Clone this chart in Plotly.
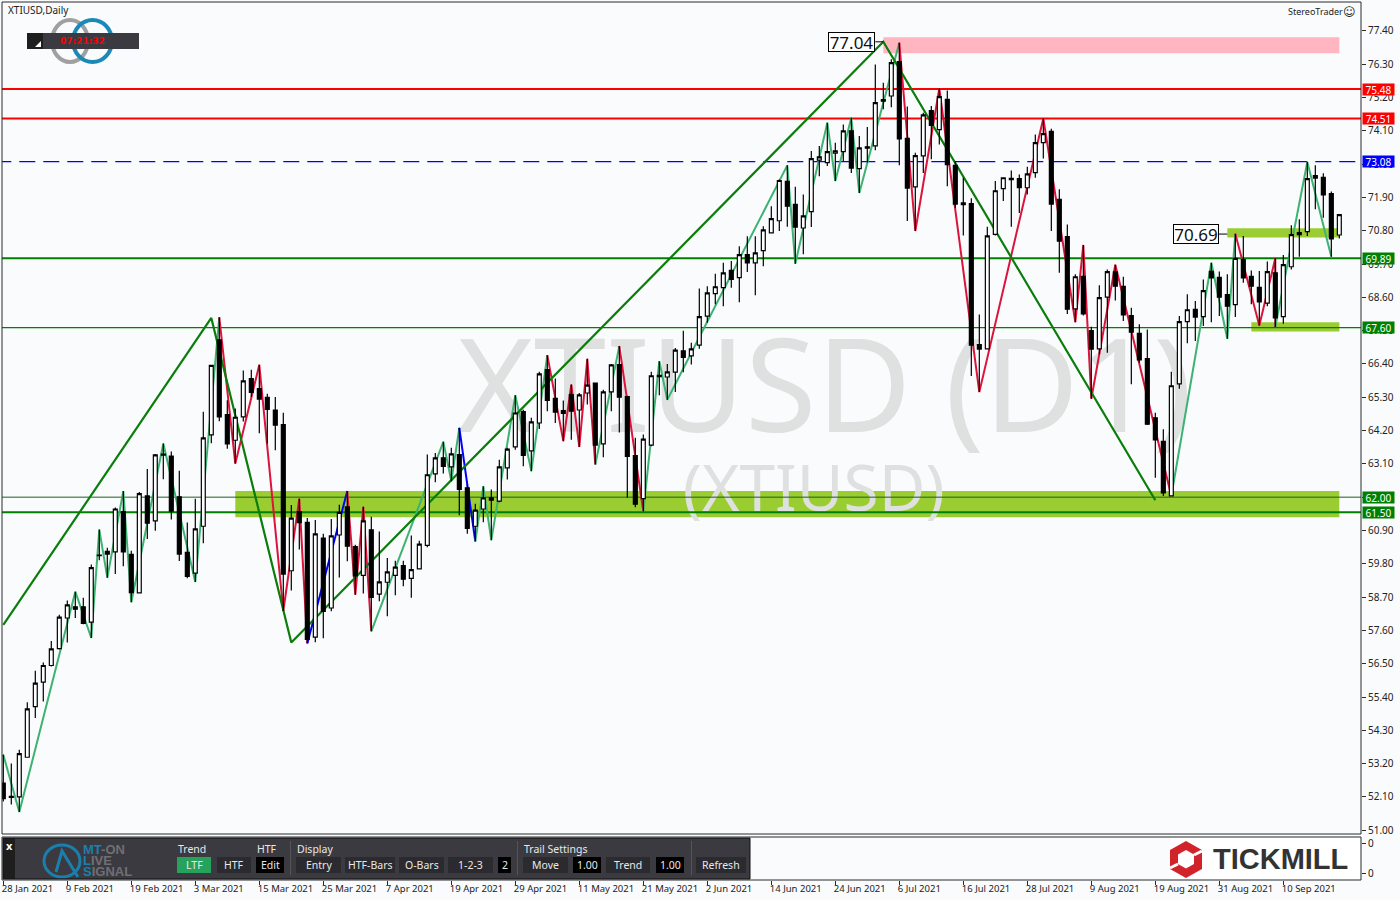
import plotly.graph_objects as go

opens = [52.56,52.12,52.10,53.41,55.08,55.89,56.44,57.00,58.01,58.38,
 58.38,57.87,60.07,60.21,60.19,61.52,60.11,58.84,62.04,61.22,
 63.42,63.36,62.01,60.18,59.49,61.04,64.06,67.20,64.73,63.88,
 64.65,65.92,65.59,65.30,64.88,64.40,59.57,61.52,61.17,57.38,
 60.65,58.34,60.75,61.68,60.37,59.42,60.92,58.80,59.19,59.42,
 59.74,59.32,59.63,60.41,62.77,63.30,63.00,63.41,62.31,61.04,
 61.61,61.98,61.87,62.97,63.66,64.83,63.53,64.45,66.21,65.26,
 64.86,65.39,64.88,65.44,65.77,63.76,65.48,66.38,65.32,63.37,
 61.95,63.72,65.98,65.97,66.13,66.83,66.67,67.02,67.98,68.72,
 68.92,69.49,69.25,70.01,69.74,70.14,70.73,71.13,72.43,71.67,
 70.89,71.43,73.13,73.05,73.36,73.41,74.10,72.85,73.57,73.60,
 75.13,75.25,76.39,73.85,72.25,73.27,74.77,74.14,75.14,72.96,
 71.72,71.70,67.04,66.90,70.68,72.19,72.49,72.52,72.22,72.72,
 73.71,74.08,71.84,70.61,68.22,69.29,67.50,66.90,68.61,69.44,
 68.96,68.00,67.41,66.58,64.62,63.84,62.04,65.74,67.80,68.20,
 67.96,69.46,69.26,68.69,68.36,69.85,69.29,68.93,68.41,69.41,
 67.96,69.61,70.67,70.77,72.62,72.56,72.03,70.66]
closes = [52.04,52.08,53.53,55.01,55.86,56.44,56.99,58.04,58.44,58.30,
 57.83,59.67,60.09,60.12,61.61,60.19,58.85,62.12,61.14,63.40,
 63.39,61.54,60.12,59.38,60.95,63.96,66.35,64.65,63.76,64.64,
 65.84,65.46,65.24,64.90,64.38,59.46,61.31,61.16,57.30,60.79,
 58.23,60.72,61.50,60.38,59.40,61.22,58.69,59.20,59.53,59.69,
 59.29,59.61,60.45,62.74,63.30,63.02,63.43,62.26,60.97,61.57,
 61.98,61.90,63.00,63.59,64.78,63.38,64.49,66.07,65.20,64.81,
 64.77,64.84,65.38,65.70,63.72,65.48,66.37,65.30,63.35,61.77,
 63.92,66.01,66.02,66.14,66.86,66.62,66.90,67.96,68.75,68.95,
 69.41,69.19,70.01,69.74,70.07,70.83,71.20,72.46,71.61,70.92,
 71.29,73.18,73.24,73.41,73.44,74.10,72.87,73.54,73.53,75.03,
 75.08,76.35,73.83,72.21,73.28,74.63,74.28,75.23,72.98,71.68,
 71.66,67.02,66.89,70.63,72.12,72.55,72.53,72.22,72.68,73.71,
 74.01,71.68,70.46,68.21,69.28,68.05,66.89,68.59,69.45,68.97,
 68.02,67.45,66.53,64.41,63.89,62.14,65.68,67.80,68.19,67.95,
 68.82,69.24,68.61,68.31,69.89,69.24,68.97,68.45,69.45,67.92,
 69.68,70.67,70.74,72.52,72.54,71.98,70.53,71.33]
highs = [53.50,53.20,53.66,55.23,56.27,56.54,57.25,58.12,58.59,58.88,
 58.68,59.78,60.93,60.33,61.66,62.20,60.23,62.17,62.93,63.43,
 63.77,63.51,62.87,61.16,61.95,64.82,66.37,67.94,65.20,64.93,
 66.18,66.21,66.37,65.42,65.31,64.79,61.74,61.95,61.31,61.25,
 60.79,61.28,61.75,62.20,60.43,61.68,61.35,60.87,59.99,59.90,
 59.90,60.73,60.56,63.41,63.46,63.83,63.63,64.29,62.42,61.78,
 62.36,62.25,63.24,63.63,65.37,64.89,64.62,66.14,66.69,65.92,
 65.19,65.72,65.44,66.57,65.77,65.55,66.40,66.99,65.35,63.96,
 64.07,66.14,66.49,66.40,66.93,67.50,67.10,68.89,68.97,69.38,
 69.74,69.80,70.29,70.62,70.62,70.95,71.61,72.49,72.96,72.25,
 72.00,73.43,73.60,74.37,73.71,74.31,74.53,73.93,74.23,76.29,
 75.69,76.46,77.01,74.90,73.38,74.70,74.92,75.50,75.43,73.10,
 72.55,71.87,68.03,70.93,72.44,72.57,72.79,72.66,72.91,73.98,
 74.51,74.17,72.17,71.01,69.36,70.33,67.63,69.00,69.52,69.68,
 69.28,68.26,67.71,67.54,64.79,64.24,66.14,67.98,68.70,68.48,
 69.19,69.74,69.45,69.36,70.70,70.63,69.49,69.47,69.78,69.89,
 70.00,70.98,71.18,73.07,72.96,72.70,72.10,71.33]
lows = [51.95,51.85,51.60,53.41,54.71,55.25,56.41,56.97,57.20,58.01,
 57.80,57.35,59.92,59.34,59.46,59.72,58.53,58.84,60.62,60.89,
 62.59,61.26,59.89,59.32,59.20,60.48,63.78,64.51,63.60,63.11,
 64.50,65.31,64.11,63.77,63.55,58.24,58.92,60.27,57.19,57.21,
 57.34,58.23,59.35,59.88,58.78,58.82,57.57,58.56,58.07,58.76,
 59.06,58.68,59.61,60.35,62.49,62.78,62.53,61.40,60.79,60.54,
 61.17,60.58,61.83,62.58,63.57,63.02,62.86,64.25,64.84,64.45,
 63.85,63.90,63.66,65.06,63.08,63.32,64.84,64.14,61.98,61.67,
 61.53,63.68,65.37,65.22,65.47,66.13,66.38,66.90,67.76,68.37,
 68.31,68.92,68.44,69.44,68.67,69.63,70.71,70.79,70.93,69.71,
 70.02,70.92,72.60,72.94,72.44,73.10,72.71,72.05,73.05,73.46,
 74.81,74.88,72.96,71.12,70.79,72.71,73.16,73.65,72.27,71.56,
 70.64,66.00,65.47,66.88,70.64,71.78,70.93,71.39,72.00,72.55,
 73.19,70.79,69.41,68.05,67.78,68.00,65.25,66.72,66.77,68.50,
 67.82,65.73,66.44,64.38,62.64,62.04,62.04,65.58,67.08,67.16,
 67.65,67.78,67.98,67.23,67.95,69.08,68.37,67.67,68.31,67.62,
 67.73,69.52,69.94,70.63,71.51,71.23,69.94,70.54]

date_labels = ["28 Jan 2021","9 Feb 2021","19 Feb 2021","3 Mar 2021","15 Mar 2021","25 Mar 2021",
 "7 Apr 2021","19 Apr 2021","29 Apr 2021","11 May 2021","21 May 2021","2 Jun 2021","14 Jun 2021",
 "24 Jun 2021","6 Jul 2021","16 Jul 2021","28 Jul 2021","9 Aug 2021","19 Aug 2021","31 Aug 2021","10 Sep 2021"]
price_ticks = [77.40,76.30,75.20,74.10,73.00,71.90,70.80,69.70,68.60,67.50,66.40,65.30,64.20,63.10,
 62.00,60.90,59.80,58.70,57.60,56.50,55.40,54.30,53.20,52.10,51.00]

zz_green_1_x = [0,2,9,11,12,13,15,16,20,24,27]
zz_green_1_y = [53.49,51.60,58.88,57.35,60.93,59.34,62.20,58.53,63.77,59.20,67.94]
zz_red_1_x = [27,29,32,35,37,38]
zz_red_1_y = [67.94,63.11,66.37,58.24,61.95,57.17]
zz_blue_1_x = [38,43]
zz_blue_1_y = [57.17,62.20]
zz_red_2_x = [43,44,45,46]
zz_red_2_y = [62.20,58.78,61.68,57.57]
zz_green_2_x = [46,55,56,57]
zz_green_2_y = [57.57,63.83,62.53,64.29]
zz_blue_2_x = [57,59]
zz_blue_2_y = [64.29,60.54]
zz_green_3_x = [59,60,61,64,66,68]
zz_green_3_y = [60.54,62.36,60.58,65.37,62.86,66.69]
zz_red_3_x = [68,70,71,72,73,74]
zz_red_3_y = [66.69,63.85,65.72,63.66,66.57,63.08]
zz_green_4_x = [74,77]
zz_green_4_y = [63.08,66.99]
zz_red_4_x = [77,80]
zz_red_4_y = [66.99,61.53]
zz_green_5_x = [80,82,83,98,99,103,104,106,107,112]
zz_green_5_y = [61.53,66.49,65.22,72.96,69.71,74.37,72.44,74.53,72.05,77.01]
zz_red_5_x = [112,114,117,122,130,134,135,136,139,146]
zz_red_5_y = [77.01,70.79,75.50,65.47,74.51,67.78,70.33,65.25,69.68,62.04]
zz_green_6_x = [146,151,153,154]
zz_green_6_y = [62.04,69.74,67.23,70.70]
zz_red_6_x = [154,157,159,159]
zz_red_6_y = [70.70,67.67,69.89,67.62]
zz_green_7_x = [159,163,166]
zz_green_7_y = [67.62,73.07,69.94]

trend_x = [0,26,36,110,144]
trend_y = [57.78,67.92,57.20,77.04,61.90]

levels = [75.48,74.51,73.08,69.89,67.60,62.00,61.50]
level_colors = ["#FF0000","#FF0000","#0000FF","#008000","#008000","#1F5F1F","#008000"]
level_widths = [2,2,1.2,2,1.2,1,2]
level_dashes = ["solid","solid","dash","solid","solid","solid","solid"]
tag_colors = ["#FF0000","#FF0000","#0000FF","#008000","#008000","#008000","#008000"]

zones = [(110,167,77.19,76.66,"#FFB6C1"),(29,167,62.20,61.34,"#9ACD32"),
         (153,167,70.88,70.58,"#9ACD32"),(156,167,67.78,67.47,"#9ACD32")]

FONT = "Noto Sans"
TOP, BOTTOM, LEFT, RIGHT = 2, 20, 2, 39
W, H = 1400, 900
XR = [-0.1625, 169.71]
YR = [50.875, 78.355]
def px(X): return (X - LEFT) / (W - LEFT - RIGHT)
def py(Y): return 1 - (Y - TOP) / (H - TOP - BOTTOM)

fig = go.Figure()

fig.add_trace(go.Scatter(x=[102.7], y=[65.22], mode="text", text=["XTIUSD (D1)"],
    textfont=dict(family=FONT, size=130, color="#DFE0E0"), textposition="middle center"))
fig.add_trace(go.Scatter(x=[101.3], y=[62.07], mode="text", text=["(XTIUSD)"],
    textfont=dict(family=FONT, size=64, color="#DFE0E0"), textposition="middle center"))

for lv, col, wd, ds in zip(levels, level_colors, level_widths, level_dashes):
    fig.add_trace(go.Scatter(x=[-1, 171], y=[lv, lv], mode="lines", line=dict(color=col, width=wd, dash=ds if ds == "solid" else "16px,8px")))

GREEN, RED, BLUE = "#3CB371", "#DC143C", "#0000FF"
for sx, sy, c in [(zz_green_1_x, zz_green_1_y, GREEN), (zz_red_1_x, zz_red_1_y, RED), (zz_blue_1_x, zz_blue_1_y, BLUE),
                  (zz_red_2_x, zz_red_2_y, RED), (zz_green_2_x, zz_green_2_y, GREEN), (zz_blue_2_x, zz_blue_2_y, BLUE),
                  (zz_green_3_x, zz_green_3_y, GREEN), (zz_red_3_x, zz_red_3_y, RED), (zz_green_4_x, zz_green_4_y, GREEN),
                  (zz_red_4_x, zz_red_4_y, RED), (zz_green_5_x, zz_green_5_y, GREEN), (zz_red_5_x, zz_red_5_y, RED),
                  (zz_green_6_x, zz_green_6_y, GREEN), (zz_red_6_x, zz_red_6_y, RED), (zz_green_7_x, zz_green_7_y, GREEN)]:
    fig.add_trace(go.Scatter(x=sx, y=sy, mode="lines", line=dict(color=c, width=2)))

fig.add_trace(go.Scatter(x=trend_x, y=trend_y, mode="lines", line=dict(color="#0A7D0A", width=2.2)))

# candles live on an overlaying axis pair so they are painted above the lines
fig.add_trace(go.Candlestick(x=list(range(len(opens))), open=opens, high=highs, low=lows, close=closes,
    xaxis="x2", yaxis="y3", whiskerwidth=0,
    increasing=dict(fillcolor="#FFFFFF", line=dict(color="#000000", width=1.2)),
    decreasing=dict(fillcolor="#000000", line=dict(color="#000000", width=1.2))))

fig.add_trace(go.Scatter(x=[0], y=[0], yaxis="y2", mode="markers", marker=dict(opacity=0)))

shapes = []
for x0, x1, y0, y1, c in zones:
    shapes.append(dict(type="rect", xref="x", yref="y", x0=x0, x1=x1, y0=y0, y1=y1,
                       fillcolor=c, line=dict(width=0), layer="below"))

def rect(x0, y0, x1, y1, fill, line=None, lw=0):
    shapes.append(dict(type="rect", xref="paper", yref="paper", x0=px(x0), x1=px(x1), y0=py(y0), y1=py(y1),
                       fillcolor=fill, line=dict(width=lw, color=line or fill), layer="above"))
def ring(x0, y0, x1, y1, col, lw):
    shapes.append(dict(type="circle", xref="paper", yref="paper", x0=px(x0), x1=px(x1), y0=py(y0), y1=py(y1),
                       line=dict(color=col, width=lw), layer="above"))
def poly(pts, fill=None, line=None, lw=0, close=True):
    path = "M " + " L ".join(f"{px(a):.5f},{py(b):.5f}" for a, b in pts) + (" Z" if close else "")
    shapes.append(dict(type="path", xref="paper", yref="paper", path=path, fillcolor=fill or "rgba(0,0,0,0)",
                       line=dict(width=lw, color=line or "rgba(0,0,0,0)"), layer="above"))

rect(2, 2, 1361, 834, "rgba(0,0,0,0)", "#2A2A2A", 1)
rect(2, 837, 1361, 880, "rgba(0,0,0,0)", "#2A2A2A", 1)
shapes.append(dict(type="line", xref="x", yref="y", x0=109, x1=110, y0=77.04, y1=77.04, line=dict(color="#000", width=1), layer="above"))
shapes.append(dict(type="line", xref="x", yref="y", x0=151.9, x1=153, y0=70.69, y1=70.69, line=dict(color="#000", width=1), layer="above"))

ring(52, 20, 88, 62, "#A0A0A0", 4)
ring(73, 20, 112, 62, "#1B89B8", 4)
rect(27, 33, 139, 49, "#3B3A40")
rect(27, 33, 43, 49, "#1E1E1E")
poly([(35, 47), (41, 47), (41, 41)], fill="#FFFFFF")

rect(1170, 838, 1360, 879, "#FFFFFF")
poly([(1186, 841), (1202, 850), (1202, 869), (1186, 878), (1170, 869), (1170, 850)], fill="#D2232A")
poly([(1186, 850), (1194, 854.5), (1194, 864), (1186, 868.5), (1178, 864), (1178, 854.5)], fill="#FFFFFF")
poly([(1194, 855), (1202, 851)], line="#FFFFFF", lw=3, close=False)
poly([(1178, 864), (1170, 868)], line="#FFFFFF", lw=3, close=False)

rect(3, 838, 750, 879, "#3B3A40")
rect(3, 838, 15, 879, "#1E1E1E")
ring(44, 845, 80, 877, "#1B7FAE", 3)
poly([(56, 872), (62, 851), (78, 877)], line="#1B7FAE", lw=3, close=False)
rect(3, 838, 750, 879, "rgba(0,0,0,0)", "#111111", 1)

annos = []
def label(X, Y, text, size=10, color="#222222", anchor="left", family=FONT):
    annos.append(dict(xref="paper", yref="paper", x=px(X), y=py(Y), text=text, showarrow=False, xanchor=anchor, yanchor="middle",
             font=dict(family=family, size=size, color=color), borderpad=0))

label(7, 10, "XTIUSD,Daily", 10)
label(1287, 12, "StereoTrader", 9)
label(1349, 12, "\u263A", 12, anchor="center", family="DejaVu Sans")
label(82, 41, "<b>07:21:32</b>", 9, "#FF0000", "center", "DejaVu Sans")

for lv, col in zip(levels, tag_colors):
    annos.append(dict(xref="paper", yref="y", x=1, xshift=1, y=lv, text=f"{lv:.2f}", showarrow=False, xanchor="left", yanchor="middle",
                      font=dict(family=FONT, size=10, color="#FFFFFF"), bgcolor=col, width=31, height=11, borderpad=0, align="center"))
for bx, by, t, w in [(109, 77.04, "77.04", 45), (151.9, 70.69, "70.69", 44)]:
    annos.append(dict(xref="x", yref="y", x=bx, y=by, text=t, showarrow=False, xanchor="right", yanchor="middle",
                      font=dict(family=FONT, size=17, color="#111111"), bgcolor="#FFFFFF", bordercolor="#000000",
                      borderwidth=1, borderpad=0, width=w, height=18))

TB = "#E8E8E8"
label(9, 845, "<b>x</b>", 11, "#FFFFFF", "center")
label(177, 849, "Trend", 10.5, TB)
label(256, 849, "HTF", 10.5, TB)
label(296, 849, "Display", 10.5, TB)
label(523, 849, "Trail Settings", 10.5, TB)
for t, x0, x1, c in [("LTF", 177, 211, "#27A25C"), ("HTF", 217, 251, "#2B2A2F"), ("Edit", 256, 284, "#000000"),
                     ("Entry", 296, 341, "#2B2A2F"), ("HTF-Bars", 345, 395, "#2B2A2F"), ("O-Bars", 399, 444, "#2B2A2F"),
                     ("1-2-3", 448, 493, "#2B2A2F"), ("2", 498, 511, "#000000"), ("Move", 523, 568, "#2B2A2F"),
                     ("1.00", 573, 601, "#000000"), ("Trend", 606, 650, "#2B2A2F"), ("1.00", 656, 684, "#000000"),
                     ("Refresh", 696, 746, "#2B2A2F")]:
    rect(x0, 857, x1, 873, c)
    label((x0 + x1) / 2, 865, t, 10.5, TB, "center")
for dx in (290, 517, 691):
    rect(dx, 841, dx + 1, 875, "#55545A")
TEAL, GR = "#1B7FAE", "#6F6F75"
label(82, 849, f"<b><span style='color:{TEAL}'>MT</span><span style='color:{GR}'>-ON</span></b>", 13, GR, family="Liberation Sans")
label(82, 860, f"<b><span style='color:{TEAL}'>L</span><span style='color:{GR}'>IVE</span></b>", 13, GR, family="Liberation Sans")
label(82, 871, f"<b><span style='color:{TEAL}'>S</span><span style='color:{GR}'>IGNAL</span></b>", 13, GR, family="Liberation Sans")
label(1212, 859, "<b>TICKMILL</b>", 29, "#333333", family="Liberation Sans")

fig.update_layout(
    width=W, height=H, margin=dict(l=LEFT, r=RIGHT, t=TOP, b=BOTTOM),
    paper_bgcolor="#F9FBFD", plot_bgcolor="#F9FBFD", showlegend=False, hovermode=False, dragmode=False,
    boxgap=0.3,
    font=dict(family=FONT, size=10, color="#222222"),
    shapes=shapes, annotations=annos,
    xaxis=dict(range=XR, anchor="y2", domain=[0, 1], showgrid=False, zeroline=False,
               rangeslider=dict(visible=False), tickmode="array", tickvals=list(range(0, 168, 8)), ticktext=date_labels,
               ticks="outside", ticklen=4, tickcolor="#2A2A2A", tickangle=0, ticklabelposition="outside right", ticklabelshift=-2,
               tickfont=dict(family=FONT, size=9.5, color="#222222")),
    xaxis2=dict(range=XR, overlaying="x", anchor="y3", visible=False, rangeslider=dict(visible=False), showgrid=False, zeroline=False),
    yaxis=dict(domain=[(H - BOTTOM - 834) / (H - TOP - BOTTOM), 1], range=YR, side="right", showgrid=False, zeroline=False,
               tickmode="array", tickvals=price_ticks, ticktext=[f"{v:.2f}" for v in price_ticks], ticks="outside", ticklen=4,
               tickcolor="#2A2A2A", tickfont=dict(family=FONT, size=10, color="#222222")),
    yaxis2=dict(domain=[0, (H - BOTTOM - 837) / (H - TOP - BOTTOM)], range=[-0.2, 1.23], side="right", anchor="x", showgrid=False, zeroline=False,
                tickmode="array", tickvals=[0, 1], ticktext=["0", "0"], ticks="outside", ticklen=4, tickcolor="#2A2A2A",
                tickfont=dict(family=FONT, size=10, color="#222222")),
    yaxis3=dict(range=YR, overlaying="y", anchor="x2", visible=False, showgrid=False, zeroline=False),
)

fig.write_html("out.html", config=dict(displayModeBar=False),
               post_script="document.body.style.margin='0';document.body.style.background='#F9FBFD';")
